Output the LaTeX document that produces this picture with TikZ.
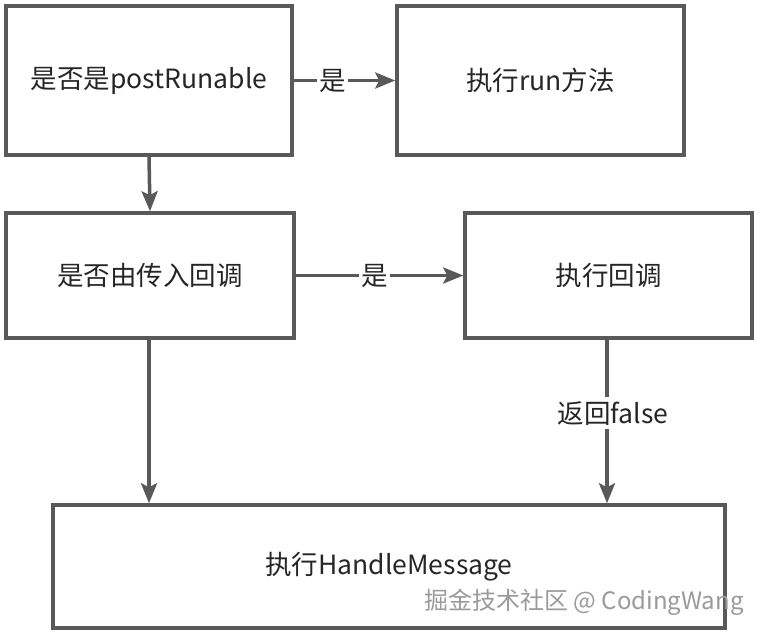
\documentclass[tikz,border=0pt]{standalone}
\usepackage{fontspec}
\setmainfont{Noto Sans CJK SC}
\usetikzlibrary{arrows.meta}
\definecolor{ln}{HTML}{595959}
\definecolor{tx}{HTML}{262626}
\definecolor{wm}{HTML}{9A9A9A}
\begin{document}
\begin{tikzpicture}[x=1pt,y=-1pt,
  box/.style={draw=ln,line width=3.5pt,fill=white,text=tx,inner sep=0pt,font=\fontsize{26.5}{30}\selectfont},
  conn/.style={draw=ln,line width=3.5pt,-{Stealth[length=20pt,width=16pt,inset=4pt]}},
  lbl/.style={fill=white,text=tx,inner sep=2pt,font=\fontsize{26.5}{30}\selectfont}]
\useasboundingbox (0,0) rectangle (762,634);
\node[box,minimum width=286pt,minimum height=149pt] (a) at (149,80.5) {是否是postRunable};
\node[box,minimum width=287pt,minimum height=149pt] (b) at (540.5,80.5) {执行run方法};
\node[box,minimum width=288pt,minimum height=125pt] (c) at (150,275.5) {是否由传入回调};
\node[box,minimum width=287pt,minimum height=125pt] (d) at (608.5,275.5) {执行回调};
\node[box,minimum width=672pt,minimum height=123pt] (e) at (389,566.5) {执行HandleMessage};
\draw[conn] (a.east) -- node[lbl,pos=0.38] {是} (b.west);
\draw[conn] (a.south) -- (c.north);
\draw[conn] (c.east) -- node[lbl,pos=0.47] {是} (d.west);
\draw[conn] (c.south -| a.south) -- (e.north -| a.south);
\coordinate (dx) at (607,0);
\draw[conn] (d.south -| dx) -- node[lbl,pos=0.45,inner sep=4pt,xshift=6pt] {返回false} (e.north -| dx);
\node[text=wm,font=\fontsize{24}{28}\selectfont,anchor=center] (wmk) at (584,602) {掘金技术社区 @ CodingWang};
\end{tikzpicture}
\end{document}
